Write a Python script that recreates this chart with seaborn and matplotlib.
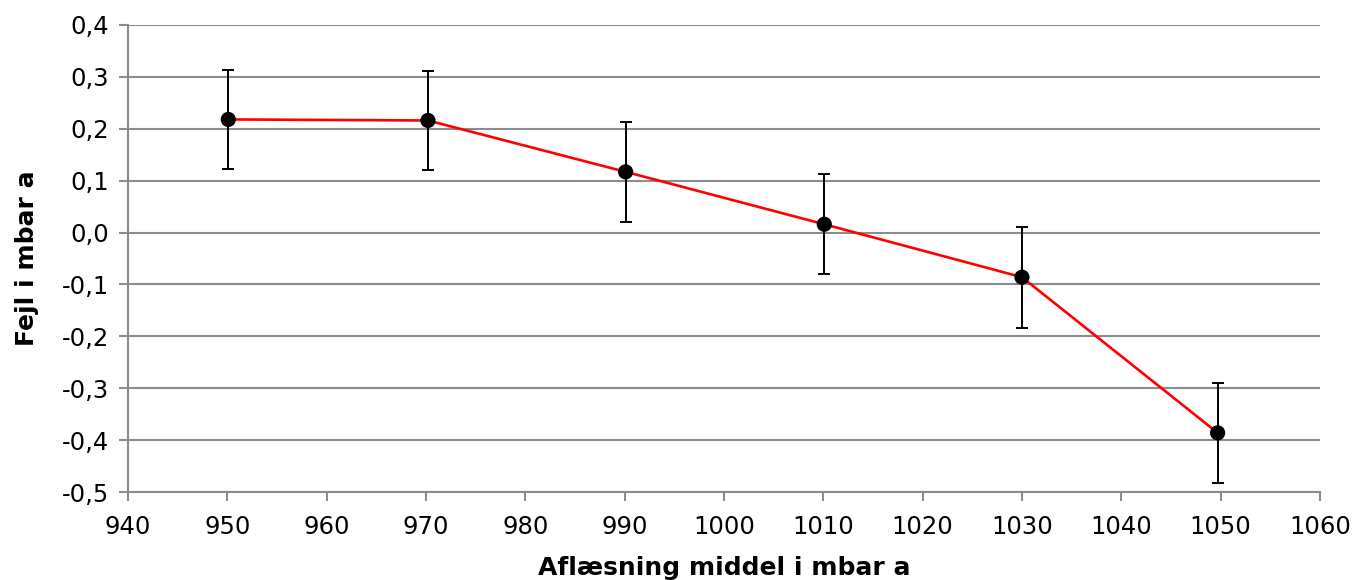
import matplotlib
matplotlib.use("Agg")
import matplotlib.pyplot as plt
import matplotlib.ticker as mticker
import numpy as np
import pandas as pd
import seaborn as sns

# pressure readings (mbar a) and error with uncertainty
aflaesning = [950.1, 970.2, 990.1, 1010.1, 1030.0, 1049.7]
fejl = [0.218, 0.216, 0.117, 0.016, -0.086, -0.386]
usikkerhed = [0.096, 0.096, 0.096, 0.096, 0.097, 0.097]

df = pd.DataFrame({'x': aflaesning, 'y': fejl, 'err': usikkerhed})

sns.set_style('white')
plt.rcParams['font.family'] = ['DejaVu Sans']
plt.rcParams['text.color'] = 'black'
plt.rcParams['axes.labelcolor'] = 'black'
gridcolor = '#8c8c8c'

fig, ax = plt.subplots(figsize=(13.57, 5.80), dpi=100)
fig.subplots_adjust(left=0.0943, right=0.9727, top=0.9569, bottom=0.1517)

# red connecting line
sns.lineplot(data=df, x='x', y='y', color='red', linewidth=1.9, ax=ax, zorder=3)
# error bars
ax.errorbar(df['x'], df['y'], yerr=df['err'], fmt='none', ecolor='black',
            elinewidth=1.4, capsize=4.5, capthick=1.4, zorder=4)
# black markers
sns.scatterplot(data=df, x='x', y='y', color='black', s=120, edgecolor='none', ax=ax, zorder=5)

ax.set_xlim(940, 1060)
ax.set_ylim(-0.5, 0.4)
ax.xaxis.set_major_locator(mticker.MultipleLocator(10))
ax.yaxis.set_major_locator(mticker.MultipleLocator(0.1))
ax.yaxis.set_major_formatter(mticker.FuncFormatter(lambda v, p: f'{v:.1f}'.replace('.', ',').replace('-0,0', '0,0')))

ax.grid(axis='y', color=gridcolor, linewidth=1.5)
ax.set_axisbelow(True)
for side in ['top', 'right']:
    ax.spines[side].set_visible(False)
for side in ['left', 'bottom']:
    ax.spines[side].set_color(gridcolor)
    ax.spines[side].set_linewidth(1.5)
ax.tick_params(axis='both', direction='out', length=6.5, width=1.5, color=gridcolor,
               labelsize=17.5, labelcolor='black')
ax.tick_params(axis='x', pad=10)
ax.tick_params(axis='y', pad=7)
ax.tick_params(left=True, bottom=True)

ax.set_xlabel('Aflæsning middel i mbar a', fontsize=18, fontweight='bold')
ax.set_ylabel('Fejl i mbar a', fontsize=18, fontweight='bold')
ax.xaxis.set_label_coords(0.5, -0.138)
ax.yaxis.set_label_coords(-0.075, 0.5)

fig.savefig('out.png', dpi=100)
